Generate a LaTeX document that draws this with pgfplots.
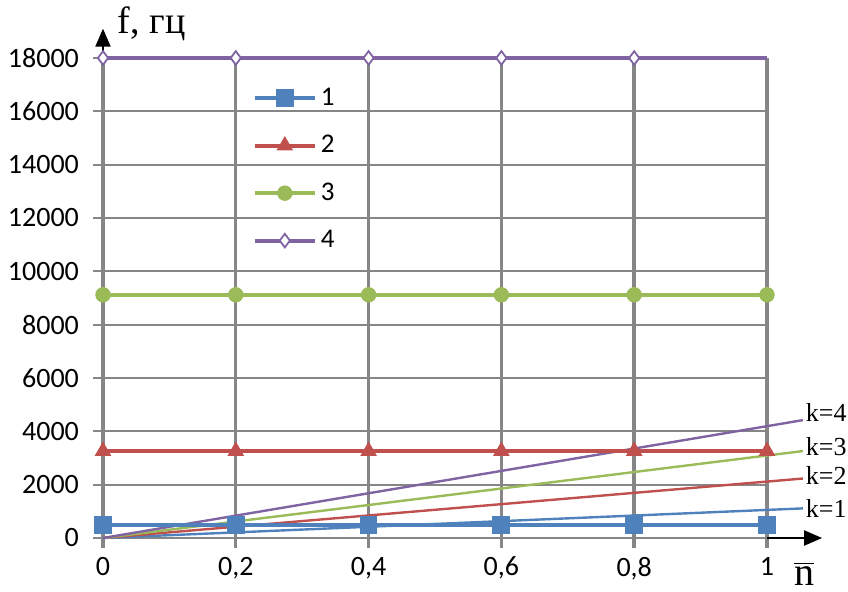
\documentclass[border=0pt]{standalone}
\usepackage{fontspec}
\setmainfont{Liberation Serif}
\newfontfamily\calfont{Carlito}
\usepackage{pgfplots}
\pgfplotsset{compat=1.18}
\usetikzlibrary{arrows.meta}
\definecolor{c1}{HTML}{4F81BD}
\definecolor{c2}{HTML}{C0504D}
\definecolor{c3}{HTML}{9BBB59}
\definecolor{c4}{HTML}{8064A2}
\definecolor{gridgray}{RGB}{134,134,134}
\pgfplotsset{lgfour/.style={legend image code/.code={\draw[##1, mark indices={2}] plot coordinates {(0pt,0pt)(15pt,0pt)(30pt,0pt)};}}}
\begin{document}
\begin{tikzpicture}
\begin{axis}[
  scale only axis, width=332pt, height=240pt,
  xmin=0, xmax=1, ymin=0, ymax=18000,
  clip=false,
  scaled ticks=false,
  axis line style={draw=none},
  xtick={0,0.2,0.4,0.6,0.8,1},
  ytick={0,2000,4000,6000,8000,10000,12000,14000,16000,18000},
  xtick pos=bottom, ytick pos=left,
  tick align=outside, major tick length=5pt,
  grid=major,
  x grid style={line width=1.7pt, color=gridgray},
  y grid style={line width=0.9pt, color=gridgray},
  xtick style={line width=1.7pt, color=gridgray},
  ytick style={line width=0.9pt, color=gridgray},
  ticklabel style={font=\calfont\fontsize{14}{16}\selectfont},
  /pgf/number format/assume math mode=true,
  /pgf/number format/use comma,
  /pgf/number format/1000 sep={},
  yticklabel style={xshift=-3.5pt},
  xticklabel style={yshift=-1pt},
  legend style={draw=none, fill=none, at={(0.216,0.955)}, anchor=north west,
    font=\calfont\fontsize{13.5}{15}\selectfont, row sep=9.5pt},
  legend cell align=left,
  legend image code/.code={\draw[mark repeat=2,mark phase=2,#1] plot coordinates {(0pt,0pt)(15pt,0pt)(30pt,0pt)};},
]
% k lines
\addplot[forget plot, c1, line width=1.2pt] coordinates {(0,0) (1.054,1110)};
\addplot[forget plot, c2, line width=1.2pt] coordinates {(0,0) (1.054,2230)};
\addplot[forget plot, c3, line width=1.2pt] coordinates {(0,0) (1.054,3260)};
\addplot[forget plot, c4, line width=1.2pt] coordinates {(0,0) (1.054,4420)};
% series
\addplot[c1, line width=2pt, mark=square*, mark size=4.2pt, mark options={solid, line width=0.5pt, fill=c1}]
  coordinates {(0,490) (0.2,490) (0.4,490) (0.6,490) (0.8,490) (1,490)};
\addlegendentry{1}
\addplot[c2, line width=2pt, mark=triangle*, mark size=4.3pt, mark options={solid, line width=0.5pt, fill=c2}]
  coordinates {(0,3260) (0.2,3260) (0.4,3260) (0.6,3260) (0.8,3260) (1,3260)};
\addlegendentry{2}
\addplot[c3, line width=2pt, mark=*, mark size=3.6pt, mark options={solid, line width=0.5pt, fill=c3}]
  coordinates {(0,9120) (0.2,9120) (0.4,9120) (0.6,9120) (0.8,9120) (1,9120)};
\addlegendentry{3}
\addplot[c4, line width=2pt, mark=diamond*, mark size=3.4pt, mark indices={1,2,3,4,5}, mark options={solid, line width=0.9pt, fill=white, draw=c4}, lgfour]
  coordinates {(0,18000) (0.2,18000) (0.4,18000) (0.6,18000) (0.8,18000) (1,18000)};
\addlegendentry{4}
% k labels
\node[anchor=west, inner sep=0pt, font=\fontsize{13}{14}\selectfont] at (axis cs:1.058,4690) {k=4};
\node[anchor=west, inner sep=0pt, font=\fontsize{13}{14}\selectfont] at (axis cs:1.058,3420) {k=3};
\node[anchor=west, inner sep=0pt, font=\fontsize{13}{14}\selectfont] at (axis cs:1.058,2360) {k=2};
\node[anchor=west, inner sep=0pt, font=\fontsize{13}{14}\selectfont] at (axis cs:1.058,1125) {k=1};
% axis arrows
\draw[line width=1pt, -{Triangle[length=9pt,width=7.5pt]}] (axis cs:1,0) -- (axis cs:1.083,0);
\draw[line width=1pt, -{Triangle[length=9pt,width=7.5pt]}] (axis cs:0,18000) -- (axis cs:0,19100);
% axis labels
\node[anchor=base west, inner sep=0pt, font=\fontsize{19}{21}\selectfont] at (axis cs:0.022,18900) {f, гц};
\node[inner sep=0pt, font=\fontsize{20}{22}\selectfont] at (axis cs:1.056,-1350) {$\overline{\mbox{n}}$};
\coordinate (bl) at (axis cs:-0.1551,-2025);
\coordinate (tr) at (axis cs:1.1220,20175);
\end{axis}
\pgfresetboundingbox
\useasboundingbox (bl) rectangle (tr);
\end{tikzpicture}
\end{document}
